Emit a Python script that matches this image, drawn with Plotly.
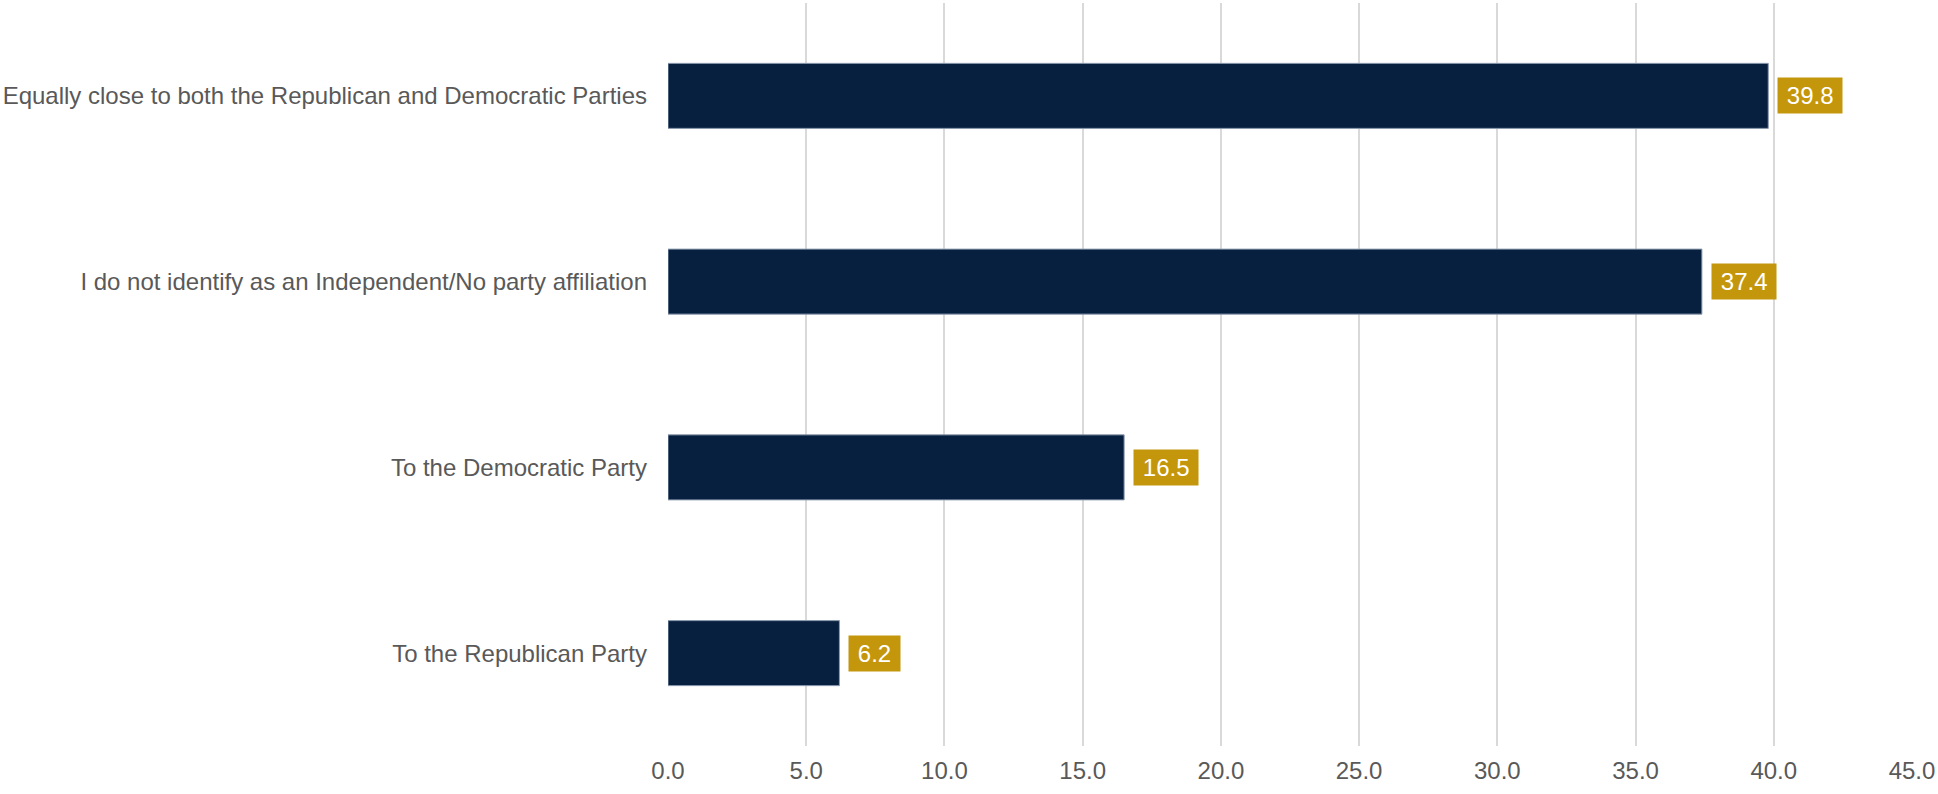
import plotly.graph_objects as go

categories = [
    "Equally close to both the Republican and Democratic Parties",
    "I do not identify as an Independent/No party affiliation",
    "To the Democratic Party",
    "To the Republican Party",
]
values = [39.8, 37.4, 16.5, 6.2]
tick_vals = [0, 5, 10, 15, 20, 25, 30, 35, 40, 45]
tick_text = ["0.0", "5.0", "10.0", "15.0", "20.0", "25.0", "30.0", "35.0", "40.0", "45.0"]

FONT = "Liberation Sans, Arial, sans-serif"
GRAY = "#595959"

fig = go.Figure(go.Bar(
    x=values, y=categories, orientation="h", width=0.35,
    marker=dict(color="#08203F", line=dict(color="#8C9BB0", width=1)),
    hoverinfo="skip",
))

for c, v in zip(categories, values):
    fig.add_annotation(
        x=v, y=c, xref="x", yref="y", text="\u2009" + f"{v:.1f}" + "\u2009",
        showarrow=False, xanchor="left", yanchor="middle", xshift=9,
        bgcolor="#C4960C", borderpad=4,
        font=dict(family=FONT, size=24, color="white"),
    )

fig.update_layout(
    width=1938, height=794,
    margin=dict(l=667, r=25, t=3, b=48),
    plot_bgcolor="white", paper_bgcolor="white",
    showlegend=False,
    font=dict(family=FONT, size=24, color=GRAY),
    xaxis=dict(
        range=[0, 45], tickvals=tick_vals, ticktext=tick_text,
        showgrid=True, gridcolor="#D9D9D9", gridwidth=2,
        zeroline=False, showline=False, ticks="",
        ticklabelstandoff=8,
        tickfont=dict(family=FONT, size=24, color=GRAY),
    ),
    yaxis=dict(
        autorange="reversed", showgrid=False, zeroline=False, showline=False,
        ticks="", ticklabelstandoff=20,
        tickfont=dict(family=FONT, size=24, color=GRAY),
    ),
)

fig.write_html(
    "out.html",
    config={"displayModeBar": False},
    post_script="document.body.style.margin='0';document.body.style.overflow='hidden';",
)
